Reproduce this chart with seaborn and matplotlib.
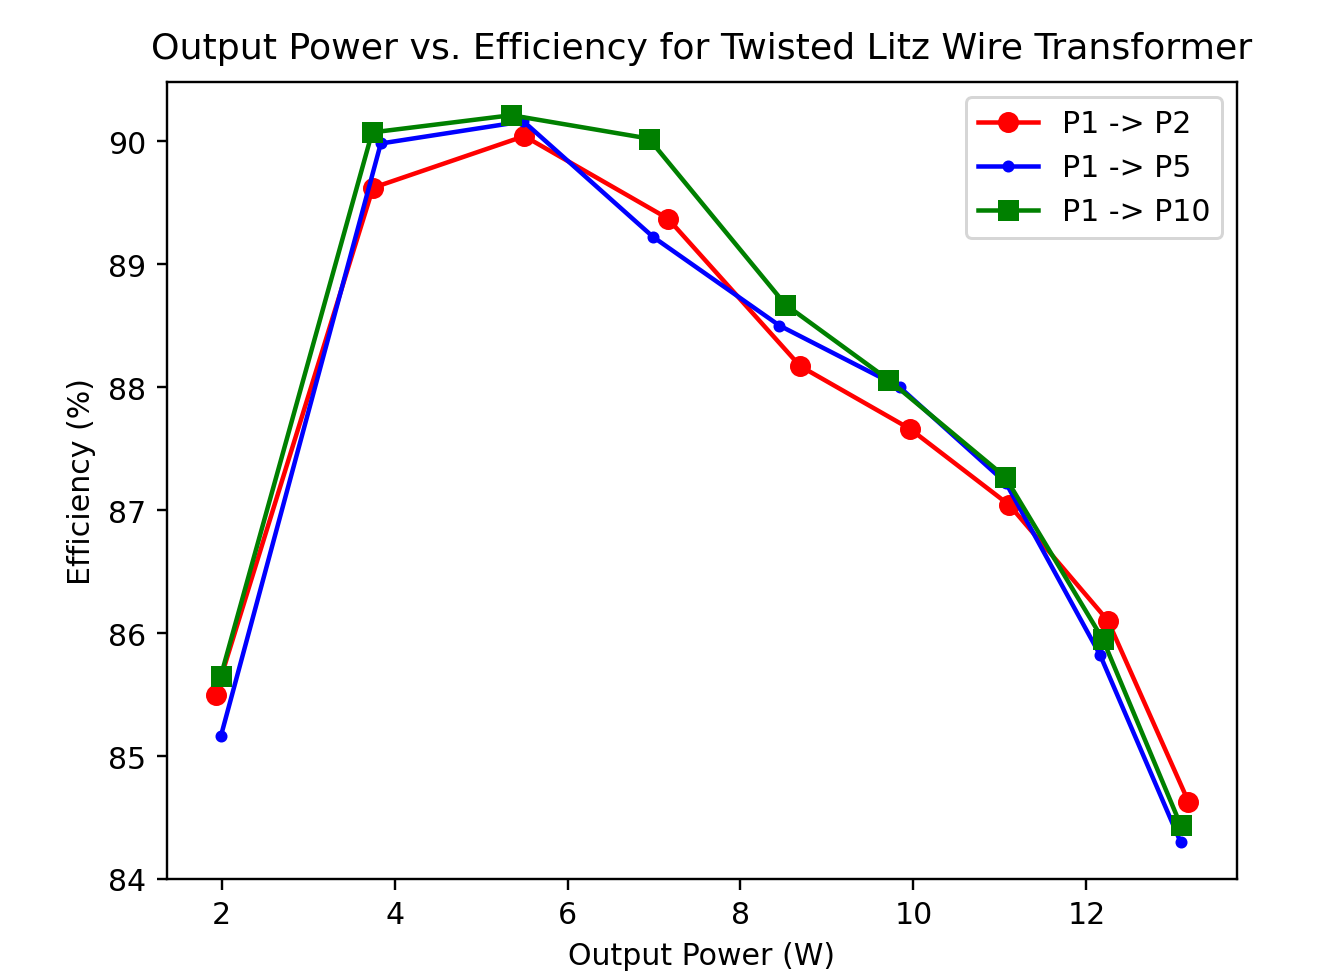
import matplotlib
matplotlib.use("Agg")
import matplotlib.pyplot as plt
import seaborn as sns
import pandas as pd

# Data
p2_power = [1.93, 3.75, 5.50, 7.16, 8.69, 9.96, 11.11, 12.25, 13.18]
p2_eff = [85.50, 89.62, 90.04, 89.37, 88.17, 87.66, 87.04, 86.10, 84.63]

p5_power = [1.99, 3.84, 5.49, 6.99, 8.45, 9.84, 11.07, 12.16, 13.09]
p5_eff = [85.16, 89.98, 90.16, 89.22, 88.50, 88.00, 87.22, 85.82, 84.30]

p10_power = [1.99, 3.74, 5.35, 6.94, 8.52, 9.71, 11.06, 12.19, 13.09]
p10_eff = [85.65, 90.07, 90.21, 90.02, 88.67, 88.06, 87.27, 85.95, 84.44]

labels = ["P1 -> P2", "P1 -> P5", "P1 -> P10"]
colors = ["red", "blue", "green"]
markers = ["o", ".", "s"]

title = "Output Power vs. Efficiency for Twisted Litz Wire Transformer"
xlabel = "Output Power (W)"
ylabel = "Efficiency (%)"

dpi = 216
fig = plt.figure(figsize=(1327 / dpi, 976 / dpi), dpi=dpi)
ax = fig.add_axes([167 / 1327, 1 - 880 / 976, (1237 - 167) / 1327, (880 - 83) / 976])

series = [(p2_power, p2_eff), (p5_power, p5_eff), (p10_power, p10_eff)]
for (xs, ys), lab, col, mk in zip(series, labels, colors, markers):
    df = pd.DataFrame({"x": xs, "y": ys})
    sns.lineplot(data=df, x="x", y="y", ax=ax, color=col, marker=mk,
                 markersize=6, markeredgecolor=col, markeredgewidth=1,
                 linewidth=1.5, label=lab, sort=False)

ax.set_title(title, fontsize=12.1, pad=8)
ax.set_xlabel(xlabel, fontsize=10)
ax.set_ylabel(ylabel, fontsize=10)
ax.tick_params(labelsize=10)
ax.set_xticks([2, 4, 6, 8, 10, 12])
ax.set_yticks([84, 85, 86, 87, 88, 89, 90])
ax.margins(x=0.05)
ax.set_ylim(84.0, 90.48)
ax.legend(loc="upper right", fontsize=10, framealpha=0.8)

fig.savefig("out.png", dpi=dpi)
